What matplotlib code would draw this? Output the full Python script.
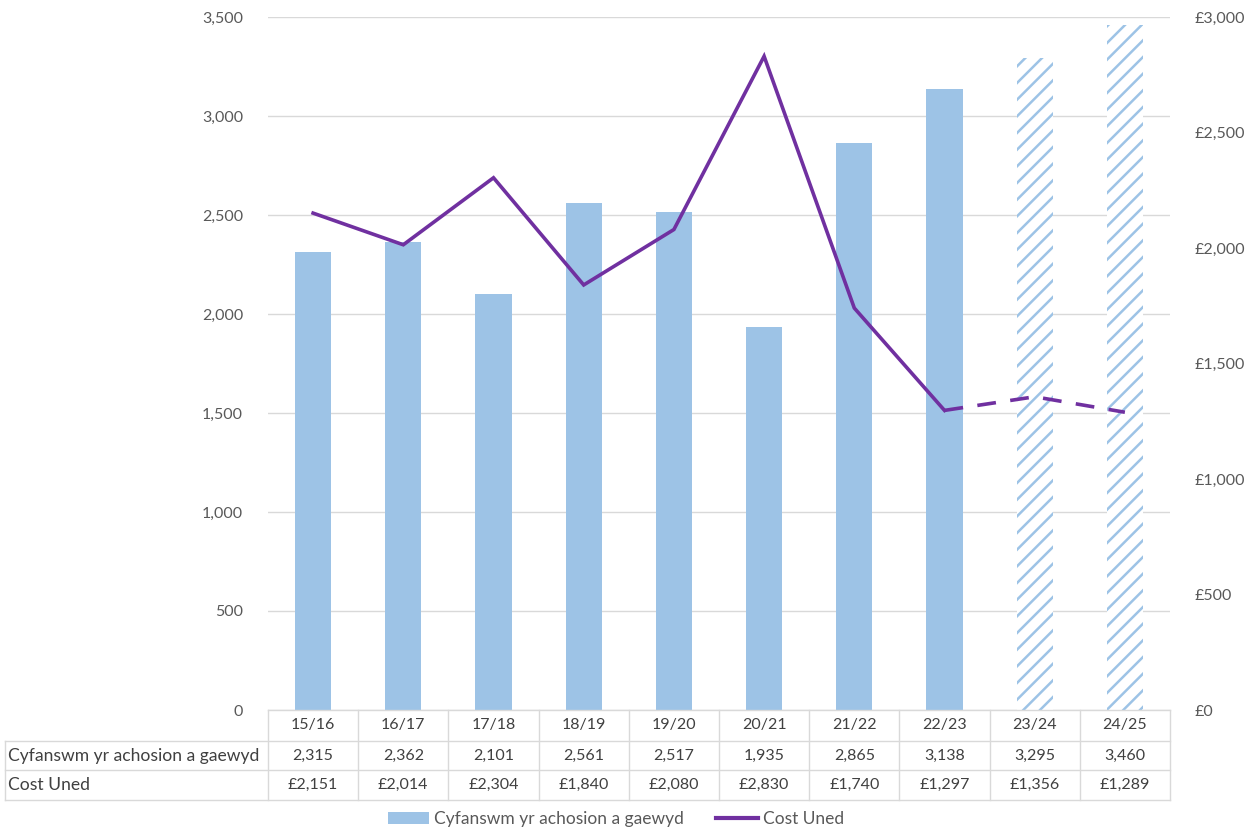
import matplotlib
matplotlib.use("Agg")
import matplotlib.pyplot as plt
import matplotlib.transforms as mtransforms
from matplotlib.patches import Patch
from matplotlib.lines import Line2D
from matplotlib.ticker import FuncFormatter, MultipleLocator

# ---- data ----
years = ["15/16", "16/17", "17/18", "18/19", "19/20", "20/21", "21/22", "22/23", "23/24", "24/25"]
cases = [2315, 2362, 2101, 2561, 2517, 1935, 2865, 3138, 3295, 3460]
unit_cost = [2151, 2014, 2304, 1840, 2080, 2830, 1740, 1297, 1356, 1289]
n_actual = 8  # first 8 years are actuals, the rest are projections
bar_label = "Cyfanswm yr achosion a gaewyd"
line_label = "Cost Uned"

# ---- style ----
BLUE = "#9DC3E6"
PURPLE = "#7030A0"
GRID = "#D9D9D9"
TXT = "#595959"
plt.rcParams["font.family"] = ["Lato", "DejaVu Sans"]
plt.rcParams["hatch.linewidth"] = 1.8

W, H = 1255, 831
fig = plt.figure(figsize=(W / 100, H / 100), dpi=100)
ax = fig.add_axes([268 / W, (H - 710) / H, 902 / W, 693 / H])
ax2 = ax.twinx()

x = list(range(len(years)))
# bars
ax.bar(x[:n_actual], cases[:n_actual], width=0.4, color=BLUE, zorder=2)
ax.bar(x[n_actual:], cases[n_actual:], width=0.4, facecolor="white",
       edgecolor=BLUE, linewidth=0, hatch="//", zorder=2)

ax.set_xlim(-0.5, len(years) - 0.5)
ax.set_ylim(0, 3500)
ax.yaxis.set_major_locator(MultipleLocator(500))
ax.yaxis.set_major_formatter(FuncFormatter(lambda v, p: f"{int(v):,}"))
ax.grid(axis="y", color=GRID, linewidth=1, zorder=0)
ax.set_axisbelow(True)
ax.set_xticks([])
ax.tick_params(axis="y", length=0, pad=18, labelsize=11.5, labelcolor=TXT)
for s in ax.spines.values():
    s.set_visible(False)

# line
ax2.plot(x[:n_actual], unit_cost[:n_actual], color=PURPLE, lw=2.6, zorder=3,
         solid_joinstyle="miter")
ax2.plot(x[n_actual - 1:], unit_cost[n_actual - 1:], color=PURPLE, lw=2.6,
         ls=(0, (5.2, 4.0)), zorder=3)
ax2.set_ylim(0, 3000)
ax2.yaxis.set_major_locator(MultipleLocator(500))
ax2.yaxis.set_major_formatter(FuncFormatter(lambda v, p: f"£{int(v):,}"))
ax2.tick_params(axis="y", length=0, pad=18, labelsize=11.5, labelcolor=TXT)
for s in ax2.spines.values():
    s.set_visible(False)
ax2.set_xlim(-0.5, len(years) - 0.5)

# ---- data table (drawn manually below the axes) ----
pix = mtransforms.Affine2D().scale(1 / W, -1 / H).translate(0, 1) + fig.transFigure
colT = mtransforms.blended_transform_factory(ax.transData, pix)
n = len(years)
x_left = -0.5 - (268 - 5) / 90.2   # left edge of the row-label column in data units
y_top, y_h1, y_h2, y_bot = 710, 741, 770, 800

def hline(x0, x1, y):
    fig.add_artist(Line2D([x0, x1], [y, y], transform=colT, color=GRID, lw=1))

def vline(xx, y0, y1):
    fig.add_artist(Line2D([xx, xx], [y0, y1], transform=colT, color=GRID, lw=1))

hline(-0.5, n - 0.5, y_top)
for yy in (y_h1, y_h2, y_bot):
    hline(x_left, n - 0.5, yy)
for i in range(n + 1):
    vline(i - 0.5, y_top, y_bot)
vline(x_left, y_h1, y_bot)

TBL = "#404040"
rows = [[f"{v:,}" for v in cases], [f"£{v:,}" for v in unit_cost]]
for i, yl in enumerate(years):
    fig.text(i, (y_top + y_h1) / 2, yl, transform=colT, ha="center", va="center",
             fontsize=11.5, color=TBL)
    fig.text(i, (y_h1 + y_h2) / 2, rows[0][i], transform=colT, ha="center", va="center",
             fontsize=11.5, color=TBL)
    fig.text(i, (y_h2 + y_bot) / 2, rows[1][i], transform=colT, ha="center", va="center",
             fontsize=11.5, color=TBL)
fig.text(8, (y_h1 + y_h2) / 2, bar_label, transform=pix, ha="left", va="center",
         fontsize=12.6, color=TBL)
fig.text(8, (y_h2 + y_bot) / 2, line_label, transform=pix, ha="left", va="center",
         fontsize=12.6, color=TBL)

# legend
handles = [Patch(facecolor=BLUE, edgecolor="none"),
           Line2D([], [], color=PURPLE, lw=3)]
leg = fig.legend(handles, [bar_label, line_label], loc="center",
                 bbox_to_anchor=(616 / W, 12 / H), ncol=2, frameon=False,
                 fontsize=12.5, handlelength=2.4, handleheight=0.7,
                 handletextpad=0.3, columnspacing=1.85, labelcolor=TXT)

fig.savefig("out.png", dpi=100, facecolor="white")
